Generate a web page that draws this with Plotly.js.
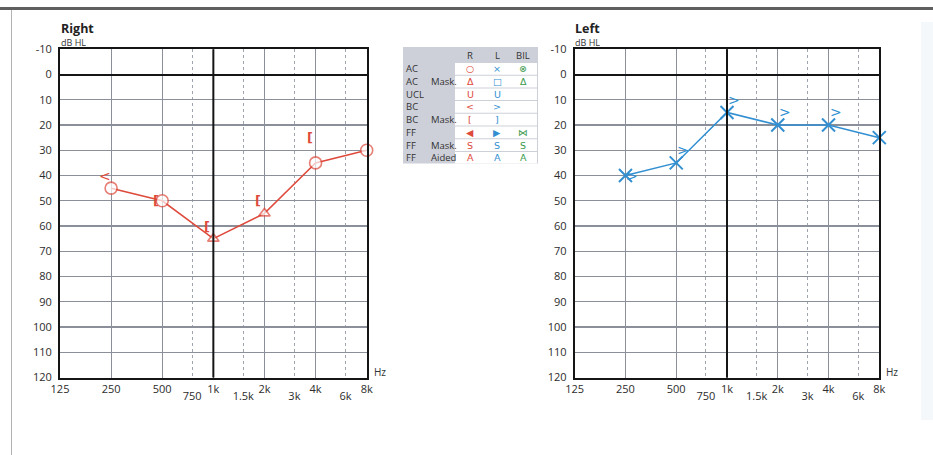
<!DOCTYPE html>
<html><head><meta charset="utf-8">
<script src="https://cdn.plot.ly/plotly-3.0.1.min.js"></script>
<style>html,body{margin:0;padding:0;background:#fff}#chart{width:933px;height:455px}</style>
</head><body><div id="chart"></div>
<script>
// ---- data ----
const freqs = [250, 500, 1000, 2000, 4000, 8000];
const rightAC = [45, 50, 65, 55, 35, 30];
const rightACMasked = [false, false, true, true, false, false];
const rightBCFreqs = [250];
const rightBC = [40];
const rightBCMaskFreqs = [500, 1000, 2000, 4000];
const rightBCMask = [50, 60, 50, 25];
const leftAC = [40, 35, 15, 20, 20, 25];
const leftBCFreqs = [250, 500, 1000, 2000, 4000];
const leftBC = [40, 30, 10, 15, 15];

const octaveTicks = [125, 250, 500, 1000, 2000, 4000, 8000];
const octaveLabels = ['125', '250', '500', '1k', '2k', '4k', '8k'];
const midTicks = [750, 1500, 3000, 6000];
const midLabels = ['750', '1.5k', '3k', '6k'];
const dbTicks = [-10, 0, 10, 20, 30, 40, 50, 60, 70, 80, 90, 100, 110, 120];
const dbLabels = ['-10', '0', '10', '20', '30', '40', '50', '60', '70', '80', '90', '100', '110', '120'];

const legendHeader = ['R', 'L', 'BIL'];
const legendRows = ['AC', 'AC', 'UCL', 'BC', 'BC', 'FF', 'FF', 'FF'];
const legendMods = ['', 'Mask.', '', '', 'Mask.', '', 'Mask.', 'Aided'];
const legendR = ['○', 'Δ', 'U', '<', '[', '◀', 'S', 'A'];
const legendL = ['×', '□', 'U', '>', ']', '▶', 'S', 'A'];
const legendBIL = ['⊗', 'Δ', '', '', '', '⋈', 'S', 'A'];

// ---- style ----
const W = 933, H = 455;
const px = x => x / W, py = y => 1 - y / H;
const RED = '#de4a3c', BLUE = '#318fd2', GREEN = '#3b9a4c', GRAY = '#cdd0d9';
const FONT = 'Open Sans, Noto Sans, sans-serif';
const tickFont = {family: FONT, size: 11, color: '#2c2c2c'};

function mainX(domain, anchor) {
  return {
    type: 'log', domain: domain, anchor: anchor,
    range: [Math.log10(125), Math.log10(8000)],
    tickmode: 'array', tickvals: octaveTicks, ticktext: octaveLabels,
    showgrid: true, gridcolor: '#8a8f99', gridwidth: 1.2,
    minor: {tickmode: 'array', tickvals: midTicks, showgrid: true, gridcolor: '#9fa4ae', griddash: 'dot', gridwidth: 1, ticks: ''},
    showline: true, mirror: true, linecolor: '#151515', linewidth: 2,
    ticks: '', tickfont: tickFont, zeroline: false, fixedrange: true
  };
}
function midX(over, anchor) {
  return {
    type: 'log', overlaying: over, anchor: anchor, side: 'bottom',
    range: [Math.log10(125), Math.log10(8000)],
    tickmode: 'array', tickvals: midTicks, ticktext: midLabels,
    showgrid: false, showline: false, zeroline: false, ticks: '',
    ticklabelstandoff: 10, tickfont: tickFont, fixedrange: true
  };
}
function mainY(domain, anchor) {
  return {
    domain: domain, anchor: anchor, range: [120, -10],
    tickmode: 'array', tickvals: dbTicks, ticktext: dbLabels,
    showgrid: true, gridcolor: '#8a8f99', gridwidth: 1.2,
    zeroline: true, zerolinecolor: '#151515', zerolinewidth: 2,
    showline: true, mirror: true, linecolor: '#151515', linewidth: 2,
    ticks: '', ticklabelstandoff: 4, tickfont: tickFont, fixedrange: true
  };
}

const yDom = [py(377.5), py(49.3)];
const rDom = [px(60), px(366.7)];
const lDom = [px(574.7), px(879.3)];

const traces = [
  {
    x: freqs, y: rightAC, xaxis: 'x', yaxis: 'y', type: 'scatter', mode: 'lines+markers', cliponaxis: false,
    line: {color: RED, width: 1.5},
    marker: {
      symbol: rightACMasked.map(m => m ? 'triangle-up' : 'circle'),
      size: rightACMasked.map(m => m ? 10 : 12),
      color: 'white', line: {color: RED, width: 1.6}
    }
  },
  {x: [], y: [], xaxis: 'x2', yaxis: 'y', type: 'scatter'},
  {
    x: freqs, y: leftAC, xaxis: 'x3', yaxis: 'y2', type: 'scatter', mode: 'lines+markers', cliponaxis: false,
    line: {color: BLUE, width: 1.5},
    marker: {symbol: 'x-thin-open', size: 13, color: BLUE, line: {color: BLUE, width: 2}}
  },
  {x: [], y: [], xaxis: 'x4', yaxis: 'y2', type: 'scatter'}
];

// bone conduction symbols, placed beside their frequency through the axes
function bcNotes(xs, ys, sym, xref, yref, color, shift, size, weight) {
  return xs.map((f, i) => ({
    x: Math.log10(f), y: ys[i], xref: xref, yref: yref, text: sym, showarrow: false,
    xshift: shift, xanchor: 'center', yanchor: 'middle', borderpad: 0,
    font: {family: 'DejaVu Sans', size: size, color: color, weight: weight}
  }));
}

// symbol legend (table of cells)
const T = {x0: 403, x1: 538, y0: 47, head: 15, row: 12.7, cellX0: 455, labelX: 405, modX: 430, colX: [470, 497, 523]};
const rowTop = i => T.y0 + T.head + i * T.row;
const tableBottom = rowTop(legendRows.length);
const legendShapes = [
  {type: 'rect', xref: 'paper', yref: 'paper', x0: px(T.x0), x1: px(T.x1), y0: py(tableBottom), y1: py(T.y0), fillcolor: GRAY, line: {width: 0}}
].concat(legendRows.map((_, i) => ({
  type: 'rect', xref: 'paper', yref: 'paper', x0: px(T.cellX0), x1: px(T.x1 - 1),
  y0: py(rowTop(i) + T.row), y1: py(rowTop(i) + 1), fillcolor: 'white', line: {width: 0}
})));
const tFont = {family: FONT, size: 9.5, color: '#333'};
const symCols = [[legendR, RED], [legendL, BLUE], [legendBIL, GREEN]];
const legendNotes = [];
legendHeader.forEach((h, j) => legendNotes.push({text: h, xref: 'paper', yref: 'paper', x: px(T.colX[j]), y: py(T.y0 + T.head / 2 + 1), xanchor: 'center', yanchor: 'middle', showarrow: false, borderpad: 0, font: tFont}));
legendRows.forEach((r, i) => {
  const yc = py(rowTop(i) + T.row / 2 + 0.5);
  legendNotes.push({text: r, xref: 'paper', yref: 'paper', x: px(T.labelX), y: yc, xanchor: 'left', yanchor: 'middle', showarrow: false, borderpad: 0, font: tFont});
  if (legendMods[i]) legendNotes.push({text: legendMods[i], xref: 'paper', yref: 'paper', x: px(T.modX), y: yc, xanchor: 'left', yanchor: 'middle', showarrow: false, borderpad: 0, font: tFont});
  symCols.forEach(([col, c], j) => {
    if (col[i]) legendNotes.push({text: col[i], xref: 'paper', yref: 'paper', x: px(T.colX[j]), y: yc, xanchor: 'center', yanchor: 'middle', showarrow: false, borderpad: 0, font: {family: 'DejaVu Sans', size: 9.5, color: c}});
  });
});

const layout = {
  width: W, height: H, margin: {l: 0, r: 0, t: 0, b: 0},
  paper_bgcolor: 'white', plot_bgcolor: 'white', showlegend: false,
  xaxis: mainX(rDom, 'y'), xaxis2: midX('x', 'y'),
  yaxis: mainY(yDom, 'x'),
  xaxis3: mainX(lDom, 'y2'), xaxis4: midX('x3', 'y2'),
  yaxis2: mainY(yDom, 'x3'),
  shapes: [
    {type: 'rect', xref: 'paper', yref: 'paper', x0: 0, x1: 1, y0: py(10), y1: py(7), fillcolor: '#5f5f5f', line: {width: 0}},
    {type: 'line', xref: 'paper', yref: 'paper', x0: px(11.5), x1: px(11.5), y0: 0, y1: py(10), line: {color: '#b3b3b3', width: 1}},
    {type: 'rect', xref: 'paper', yref: 'paper', x0: px(921), x1: 1, y0: py(420), y1: py(22), fillcolor: '#f5f8fa', line: {width: 0}, layer: 'below'},
    {type: 'line', xref: 'x', yref: 'y domain', x0: 1000, x1: 1000, y0: 0, y1: 1, line: {color: '#151515', width: 2}, layer: 'above'},
    {type: 'line', xref: 'x3', yref: 'y2 domain', x0: 1000, x1: 1000, y0: 0, y1: 1, line: {color: '#151515', width: 2}, layer: 'above'}
  ].concat(legendShapes),
  annotations: [
    {text: '<b>Right</b>', xref: 'paper', yref: 'paper', x: px(59), y: py(29), xanchor: 'left', yanchor: 'middle', showarrow: false, font: {family: FONT, size: 12.5, color: '#222'}},
    {text: 'dB HL', xref: 'paper', yref: 'paper', x: px(59), y: py(42.5), xanchor: 'left', yanchor: 'middle', showarrow: false, font: {family: FONT, size: 9, color: '#333'}},
    {text: 'Hz', xref: 'paper', yref: 'paper', x: px(372), y: py(372), xanchor: 'left', yanchor: 'middle', showarrow: false, font: {family: FONT, size: 10, color: '#333'}},
    {text: '<b>Left</b>', xref: 'paper', yref: 'paper', x: px(573), y: py(29), xanchor: 'left', yanchor: 'middle', showarrow: false, font: {family: FONT, size: 12.5, color: '#222'}},
    {text: 'dB HL', xref: 'paper', yref: 'paper', x: px(573), y: py(42.5), xanchor: 'left', yanchor: 'middle', showarrow: false, font: {family: FONT, size: 9, color: '#333'}},
    {text: 'Hz', xref: 'paper', yref: 'paper', x: px(884), y: py(372), xanchor: 'left', yanchor: 'middle', showarrow: false, font: {family: FONT, size: 10, color: '#333'}}
  ].concat(
    bcNotes(rightBCFreqs, rightBC, '<', 'x', 'y', RED, -6, 14, 'normal'),
    bcNotes(rightBCMaskFreqs, rightBCMask, '[', 'x', 'y', RED, -6, 13, 'bold'),
    bcNotes(leftBCFreqs, leftBC, '>', 'x3', 'y2', BLUE, 7, 14, 'normal'),
    legendNotes
  )
};

Plotly.newPlot('chart', traces, layout, {staticPlot: true, displayModeBar: false});
</script>
</body></html>
